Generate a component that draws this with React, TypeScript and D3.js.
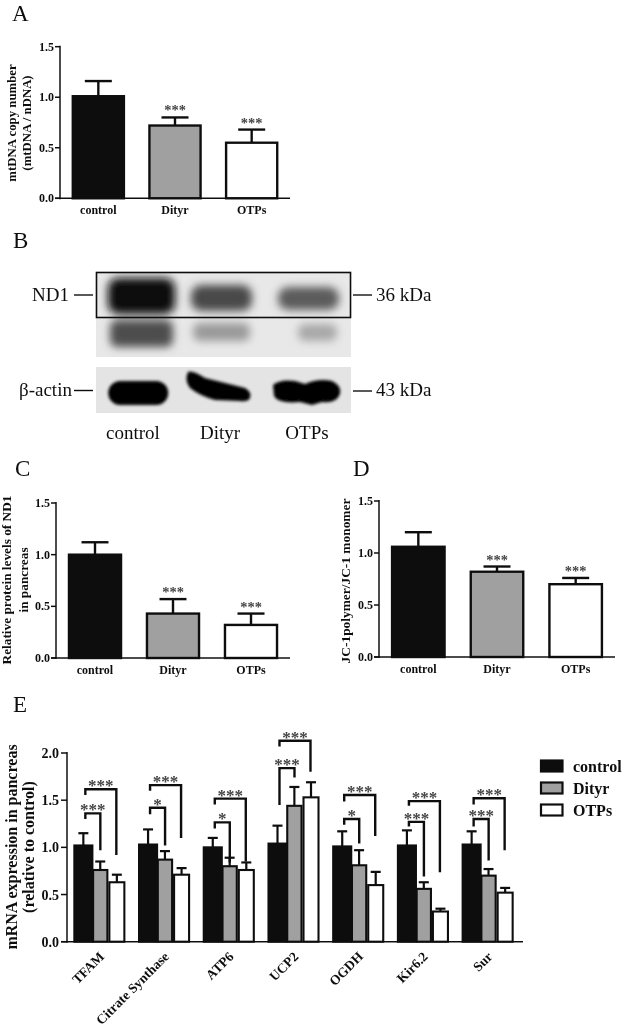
import React from "react";
import * as d3 from "d3";

const groups = ["control", "Dityr", "OTPs"];
const fills = ["#111111", "#a0a0a0", "#ffffff"];
const ticks15 = [0, 0.5, 1.0, 1.5];
const ticks20 = [0, 0.5, 1.0, 1.5, 2.0];

const aMeans = [1.01, 0.72, 0.55];
const aTops = [1.16, 0.8, 0.68];
const aStars = ["", "***", "***"];
const cMeans = [1.0, 0.43, 0.32];
const cTops = [1.12, 0.57, 0.43];
const cStars = ["", "***", "***"];
const dMeans = [1.06, 0.82, 0.7];
const dTops = [1.2, 0.87, 0.76];
const dStars = ["", "***", "***"];

const genes = ["TFAM", "Citrate Synthase", "ATP6", "UCP2", "OGDH", "Kir6.2", "Sur"];
const eControl = [1.02, 1.03, 1.0, 1.04, 1.01, 1.02, 1.03];
const eControlTop = [1.15, 1.19, 1.1, 1.23, 1.17, 1.18, 1.17];
const eDityr = [0.76, 0.87, 0.8, 1.44, 0.81, 0.56, 0.7];
const eDityrTop = [0.85, 0.96, 0.89, 1.64, 0.97, 0.63, 0.77];
const eOtps = [0.63, 0.71, 0.76, 1.53, 0.6, 0.32, 0.52];
const eOtpsTop = [0.71, 0.78, 0.84, 1.69, 0.74, 0.35, 0.57];
// bracket: top, left-leg end, right-leg end, label
const innerTop = [1.36, 1.42, 1.265, 1.84, 1.3, 1.27, 1.3];
const innerLeft = [1.3, 1.35, 1.2, 1.45, 1.24, 1.22, 1.22];
const innerRight = [0.97, 1.02, 0.84, 1.74, 1.04, 0.69, 0.86];
const innerLabel = ["***", "*", "*", "***", "*", "***", "***"];
const outerTop = [1.615, 1.66, 1.516, 2.13, 1.555, 1.49, 1.52];
const outerLeft = [1.555, 1.6, 1.455, 2.07, 1.485, 1.44, 1.455];
const outerRight = [0.92, 1.1, 0.85, 1.8, 1.12, 0.735, 0.97];

const ndBand = ["#0c0c0c", "#484848", "#5c5c5c"];
const ghostBand = ["#4e4e4e", "#9a9a9a", "#a8a8a8"];

const serif = "'Liberation Serif', 'Times New Roman', serif";

function Panel({ x0, x1, yTop, yBottom, means, tops, stars, ylines, ylabelX, ylabelY, labelSize }: any) {
  const x = d3.scaleBand<string>().domain(groups).range([x0, x1]).paddingInner(0.32).paddingOuter(0.16);
  const y = d3.scaleLinear().domain([0, 1.5]).range([yBottom, yTop]);
  return (
    <g>
      {groups.map((g, i) => {
        const bx = x(g)!;
        const bw = x.bandwidth();
        const cx = bx + bw / 2;
        return (
          <g key={g}>
            <line x1={cx} x2={cx} y1={y(means[i])} y2={y(tops[i])} stroke="#111" strokeWidth={2.4} />
            <line x1={cx - 13.5} x2={cx + 13.5} y1={y(tops[i])} y2={y(tops[i])} stroke="#111" strokeWidth={2.4} />
            <rect x={bx + 0.5} y={y(means[i])} width={bw - 1} height={yBottom - y(means[i])} fill={fills[i]} stroke="#111" strokeWidth={2.4} />
            {stars[i] && (
              <text x={cx} y={y(tops[i]) - 2} textAnchor="middle" fontSize={14.5} fontWeight="bold" fill="#444">{stars[i]}</text>
            )}
            <text x={cx} y={yBottom + 16} textAnchor="middle" fontSize={12} fontWeight="bold" fill="#111">{g}</text>
          </g>
        );
      })}
      <line x1={x0} x2={x0} y1={yTop - 1} y2={yBottom + 1} stroke="#111" strokeWidth={1.5} />
      <line x1={x0 - 5} x2={x1} y1={yBottom} y2={yBottom} stroke="#111" strokeWidth={1.5} />
      {ticks15.map((t) => (
        <g key={t}>
          <line x1={x0 - 5} x2={x0} y1={y(t)} y2={y(t)} stroke="#111" strokeWidth={1.5} />
          <text x={x0 - 6} y={y(t) + 4} textAnchor="end" fontSize={12} fontWeight="bold" fill="#111">{t.toFixed(1)}</text>
        </g>
      ))}
      {ylines.map((l: string, i: number) => (
        <text key={l} transform={`translate(${ylabelX[i]},${ylabelY}) rotate(-90)`} textAnchor="middle" fontSize={labelSize} fontWeight="bold" fill="#111">{l}</text>
      ))}
    </g>
  );
}

function PanelE() {
  const x0 = 67, x1 = 520, yB = 941.7, yT = 753;
  const x = d3.scaleBand<string>().domain(genes).range([x0, x1]).paddingInner(0.227).paddingOuter(0.1135);
  const y = d3.scaleLinear().domain([0, 2]).range([yB, yT]);
  const seriesData = [
    [eControl, eControlTop, 0, 0.36],
    [eDityr, eDityrTop, 0.375, 0.66],
    [eOtps, eOtpsTop, 0.7, 1],
  ] as any[];
  const bw = x.bandwidth();
  return (
    <g>
      {genes.map((g, gi) => {
        const gx = x(g)!;
        const lx = gx + 11, ix = gx + 26, ox = gx + 42;
        return (
          <g key={g}>
            {seriesData.map(([m, t, a, b], si) => {
              const bx = gx + a * bw;
              const w = (b - a) * bw;
              const cx = bx + w / 2;
              return (
                <g key={si}>
                  <line x1={cx} x2={cx} y1={y(m[gi])} y2={y(t[gi])} stroke="#111" strokeWidth={2.2} />
                  <line x1={cx - 5} x2={cx + 5} y1={y(t[gi])} y2={y(t[gi])} stroke="#111" strokeWidth={2.2} />
                  <rect x={bx} y={y(m[gi])} width={w} height={yB - y(m[gi])} fill={fills[si]} stroke="#111" strokeWidth={2.1} />
                </g>
              );
            })}
            <path d={`M${lx},${y(innerLeft[gi])}V${y(innerTop[gi])}H${ix}V${y(innerRight[gi])}`} fill="none" stroke="#111" strokeWidth={2.4} />
            <path d={`M${lx},${y(outerLeft[gi])}V${y(outerTop[gi])}H${ox}V${y(outerRight[gi])}`} fill="none" stroke="#111" strokeWidth={2.4} />
            <text x={(lx + ix) / 2} y={y(innerTop[gi]) + 2} textAnchor="middle" fontSize={17} fontWeight="bold" fill="#444">{innerLabel[gi]}</text>
            <text x={(lx + ox) / 2} y={y(outerTop[gi]) + 2} textAnchor="middle" fontSize={17} fontWeight="bold" fill="#444">***</text>
            <text transform={`translate(${gx + 24},${yB + 9}) rotate(-45)`} textAnchor="end" fontSize={13.5} fontWeight="bold" fill="#111" dy="0.7em">{g}</text>
          </g>
        );
      })}
      <line x1={x0} x2={x0} y1={yT - 1} y2={yB + 1} stroke="#111" strokeWidth={1.5} />
      <line x1={x0 - 6} x2={x1 + 3} y1={yB} y2={yB} stroke="#111" strokeWidth={1.5} />
      {ticks20.map((t) => (
        <g key={t}>
          <line x1={x0 - 6} x2={x0} y1={y(t)} y2={y(t)} stroke="#111" strokeWidth={1.5} />
          <text x={x0 - 8} y={y(t) + 5} textAnchor="end" fontSize={14} fontWeight="bold" fill="#111">{t.toFixed(1)}</text>
        </g>
      ))}
      <text transform="translate(17,847) rotate(-90)" textAnchor="middle" fontSize={16} fontWeight="bold" fill="#111">mRNA expression in pancreas</text>
      <text transform="translate(34,847) rotate(-90)" textAnchor="middle" fontSize={16} fontWeight="bold" fill="#111">(relative to control)</text>
      {groups.map((g, i) => {
        const ly = 766 + i * 22;
        return (
          <g key={g}>
            <rect x={541} y={ly - 5.5} width={21.5} height={11} fill={fills[i]} stroke="#111" strokeWidth={2.2} />
            <text x={573} y={ly + 5.5} fontSize={16} fontWeight="bold" fill="#111">{g}</text>
          </g>
        );
      })}
    </g>
  );
}

function Blot() {
  const lanes = d3.scaleBand<string>().domain(groups).range([96, 351]).padding(0.1);
  const lx = [108, 191, 278];
  const lw = [67, 61, 61];
  const ndY = [278, 285, 287];
  const ndH = [36, 26, 23];
  const ghY = [320, 323, 324];
  const ghH = [27, 18, 17];
  return (
    <g>
      <defs>
        <filter id="b6" x="-30%" y="-60%" width="160%" height="220%"><feGaussianBlur stdDeviation="4.4" /></filter>
        <filter id="b2" x="-20%" y="-40%" width="140%" height="180%"><feGaussianBlur stdDeviation="1.4" /></filter>
        <clipPath id="c1"><rect x={96} y={272} width={255} height={85} /></clipPath>
        <clipPath id="c2"><rect x={96} y={367} width={255} height={46} /></clipPath>
      </defs>
      <rect x={96} y={272} width={255} height={85} fill="#e8e8e8" />
      <g clipPath="url(#c1)">
        {groups.map((g, i) => (
          <g key={g} filter="url(#b6)">
            <rect x={lx[i]} y={ndY[i]} width={lw[i]} height={ndH[i]} rx={10} fill={ndBand[i]} />
            <rect x={lx[i] + 2 + (i === 2 ? 18 : 0)} y={ghY[i]} width={lw[i] - 4 - (i === 2 ? 18 : 0)} height={ghH[i]} rx={7} fill={ghostBand[i]} />
          </g>
        ))}
      </g>
      <rect x={96.5} y={272.5} width={254} height={45} fill="none" stroke="#111" strokeWidth={1.6} />
      <rect x={96} y={367} width={255} height={46} fill="#e4e4e4" />
      <g clipPath="url(#c2)" filter="url(#b2)">
        <rect x={lanes(groups[0])! + 4} y={381} width={60} height={24} rx={12} fill="#050505" />
        <path d="M188,372 Q192,370 205,378 L245,388 Q252,392 250,398 Q248,402 240,401 L215,400 Q200,396 190,388 Q184,380 188,372Z" fill="#050505" />
        <path d="M273,385 Q280,379 295,381 L305,384 Q318,378 332,381 Q342,386 340,394 Q336,404 322,402 L312,405 L300,402 Q278,404 274,396Z" fill="#050505" />
      </g>
      <g fontSize={19} fill="#111">
        <text x={32} y={301}>ND1</text>
        <text x={19} y={395.5}>β-actin</text>
        <text x={376} y={301}>36 kDa</text>
        <text x={376} y={396}>43 kDa</text>
        <text x={133} y={439} textAnchor="middle">control</text>
        <text x={220} y={439} textAnchor="middle">Dityr</text>
        <text x={307} y={439} textAnchor="middle">OTPs</text>
      </g>
      <g stroke="#111" strokeWidth={1.4}>
        <line x1={74} x2={93} y1={295} y2={295} />
        <line x1={74} x2={93} y1={390.5} y2={390.5} />
        <line x1={353} x2={372} y1={295} y2={295} />
        <line x1={353} x2={372} y1={391} y2={391} />
      </g>
    </g>
  );
}

export default function App() {
  return (
    <svg width={625} height={1028} style={{ position: "absolute", left: 0, top: 0, background: "#fff" }} fontFamily={serif}>
      <defs>
        <filter id="soft" x="0" y="0" width="100%" height="100%"><feGaussianBlur stdDeviation="0.35" /></filter>
      </defs>
      <g filter="url(#soft)">
        <g fontSize={23} fill="#111">
          <text x={12} y={21}>A</text>
          <text x={13} y={248}>B</text>
          <text x={15} y={476}>C</text>
          <text x={353} y={476}>D</text>
          <text x={13} y={712}>E</text>
        </g>
        <Panel x0={60} x1={290} yTop={46.7} yBottom={198.3} means={aMeans} tops={aTops} stars={aStars}
          ylines={["mtDNA copy number", "(mtDNA / nDNA)"]} ylabelX={[16, 31]} ylabelY={123} labelSize={12.8} />
        <Blot />
        <Panel x0={56} x1={290} yTop={503} yBottom={658} means={cMeans} tops={cTops} stars={cStars}
          ylines={["Relative protein levels of ND1", "in pancreas"]} ylabelX={[11, 28]} ylabelY={580} labelSize={13.3} />
        <Panel x0={379} x1={615} yTop={501} yBottom={657} means={dMeans} tops={dTops} stars={dStars}
          ylines={["JC-1polymer/JC-1 monomer"]} ylabelX={[350]} ylabelY={581} labelSize={13.4} />
        <PanelE />
      </g>
    </svg>
  );
}
